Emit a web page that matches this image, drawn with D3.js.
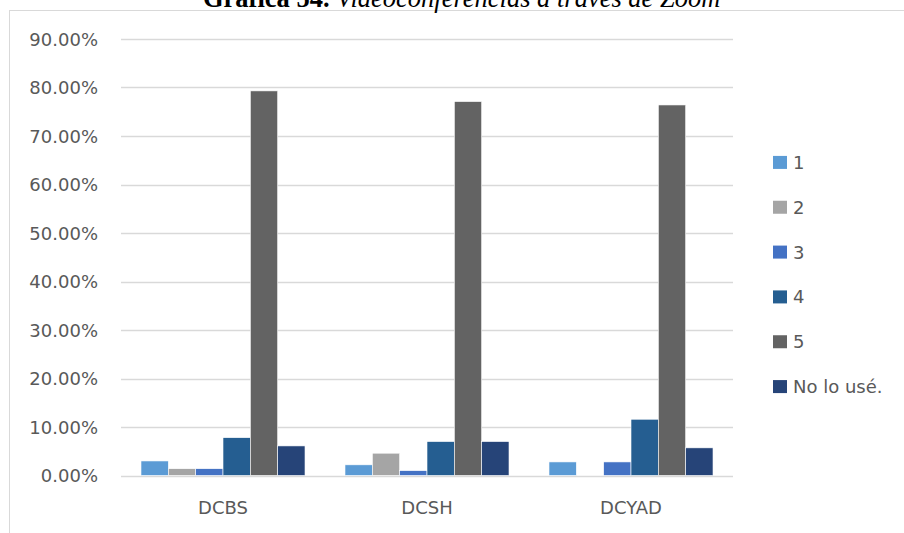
<!DOCTYPE html>
<html>
<head>
<meta charset="utf-8">
<script src="https://cdn.jsdelivr.net/npm/d3@7"></script>
<style>
  html, body { margin: 0; padding: 0; background: #fff; }
  svg { display: block; }
</style>
</head>
<body>
<svg id="chart" width="904" height="533"></svg>
<script>
const categories = ["DCBS", "DCSH", "DCYAD"];
const seriesNames = ["1", "2", "3", "4", "5", "No lo usé."];
const seriesColors = ["#5B9BD5", "#A5A5A5", "#4472C4", "#255E91", "#636363", "#264478"];
const values1 = [0.030, 0.022, 0.028];
const values2 = [0.014, 0.046, 0.000];
const values3 = [0.014, 0.010, 0.028];
const values4 = [0.078, 0.070, 0.116];
const values5 = [0.793, 0.771, 0.764];
const valuesNoLoUse = [0.061, 0.070, 0.057];
const yTicks = [0, 0.1, 0.2, 0.3, 0.4, 0.5, 0.6, 0.7, 0.8, 0.9];
const titleBold = "Gráfica 54.";
const titleItalic = " Videoconferencias a través de Zoom";

const seriesValues = [values1, values2, values3, values4, values5, valuesNoLoUse];

const svg = d3.select("#chart");
const textColor = "#595959";
const font = "DejaVu Sans, Verdana, sans-serif";

// chart frame
svg.append("rect")
  .attr("x", 9.5).attr("y", 10.5)
  .attr("width", 1000).attr("height", 600)
  .attr("fill", "#fff").attr("stroke", "#D9D9D9").attr("stroke-width", 1);

// title (clipped at top)
const title = svg.append("text")
  .attr("x", 203).attr("y", 7)
  .attr("font-family", "Liberation Serif, Times New Roman, serif")
  .attr("font-size", 26.5)
  .attr("fill", "#000");
title.append("tspan").attr("font-weight", "bold").text(titleBold);
title.append("tspan").attr("font-style", "italic").text(titleItalic);

const plotLeft = 121, plotRight = 733;
const y = d3.scaleLinear().domain([0, 0.9]).range([475.5, 39]);
const x0 = d3.scaleBand().domain(categories).range([plotLeft, plotRight])
  .paddingInner(0.196).paddingOuter(0.098);
const x1 = d3.scaleBand().domain(seriesNames).range([0, x0.bandwidth()]).padding(0);

// gridlines
svg.append("g").selectAll("line").data(yTicks).join("line")
  .attr("x1", plotLeft).attr("x2", plotRight)
  .attr("y1", d => Math.round(y(d)) + 0.5).attr("y2", d => Math.round(y(d)) + 0.5)
  .attr("stroke", "#D9D9D9").attr("stroke-width", 1.3);

// y axis labels
const yAxis = d3.axisLeft(y).tickValues(yTicks).tickSize(0).tickPadding(0)
  .tickFormat(d => (d * 100).toFixed(2) + "%");
const gy = svg.append("g").attr("transform", "translate(98,0)").call(yAxis);
gy.select(".domain").remove();
gy.selectAll("text").attr("font-family", font).attr("font-size", 18)
  .attr("fill", textColor).attr("dy", "0.36em");

// x axis labels
const xAxis = d3.axisBottom(x0).tickSize(0).tickPadding(0);
const gx = svg.append("g").attr("transform", "translate(0,501)").call(xAxis);
gx.select(".domain").remove();
gx.selectAll("text").attr("font-family", font).attr("font-size", 18)
  .attr("fill", textColor).attr("dy", "0.71em");

// bars
const groups = svg.append("g").selectAll("g").data(categories).join("g")
  .attr("transform", d => `translate(${x0(d)},0)`);
groups.selectAll("rect")
  .data((c, ci) => seriesNames.map((s, si) => ({ s, si, v: seriesValues[si][ci] })))
  .join("rect")
  .filter(d => d.v > 0)
  .attr("x", d => x1(d.s))
  .attr("width", x1.bandwidth())
  .attr("y", d => y(d.v))
  .attr("height", d => y(0) - y(d.v))
  .attr("fill", d => seriesColors[d.si])
  .attr("stroke", "#fff").attr("stroke-width", 0.6);

// legend
const legendY = d3.scaleBand().domain(seriesNames).range([140, 409]).padding(0);
const leg = svg.append("g").selectAll("g").data(seriesNames).join("g")
  .attr("transform", d => `translate(773,${legendY(d) + legendY.bandwidth() / 2})`);
leg.append("rect").attr("x", 0).attr("y", -6.5).attr("width", 14).attr("height", 13)
  .attr("fill", (d, i) => seriesColors[i]);
leg.append("text").attr("x", 20).attr("dy", "0.36em")
  .attr("font-family", font).attr("font-size", 18).attr("fill", textColor)
  .text(d => d);
</script>
</body>
</html>
